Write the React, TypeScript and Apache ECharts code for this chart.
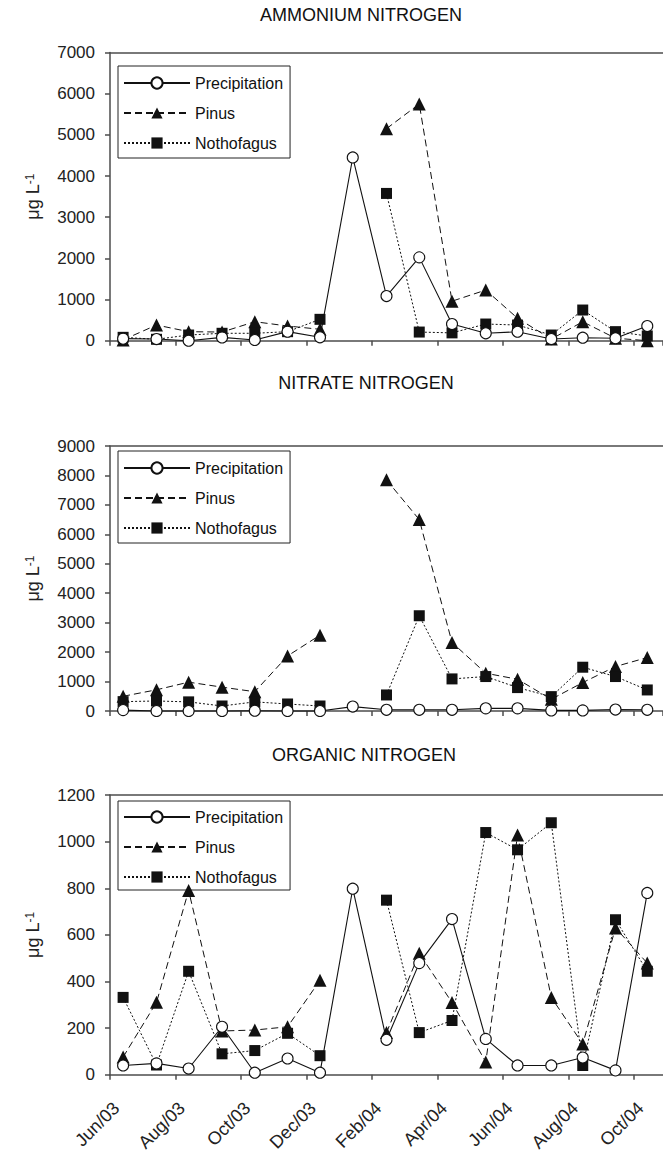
import React, { useEffect, useRef } from 'react';
import * as echarts from 'echarts';

// ---- data ----
// sampling dates, in months since 1 Jun 2003
const sampleMonths = [0.4, 1.42, 2.4, 3.42, 4.42, 5.42, 6.41, 7.41, 8.44, 9.44, 10.44, 11.47, 12.44, 13.47, 14.43, 15.43, 16.4];
const monthTickLabels = ['Jun/03', 'Aug/03', 'Oct/03', 'Dec/03', 'Feb/04', 'Apr/04', 'Jun/04', 'Aug/04', 'Oct/04'];
const panelTitles = ['AMMONIUM NITROGEN', 'NITRATE NITROGEN', 'ORGANIC NITROGEN'];
const seriesNames = ['Precipitation', 'Pinus', 'Nothofagus'];

const ammoniumPrecipitation = [50, 40, 0, 80, 17, 220, 82, 4450, 1085, 2024, 405, 180, 218, 40, 73, 60, 357];
const ammoniumPinus = [20, 381, 219, 210, 461, 357, 277, null, 5150, 5750, 960, 1230, 545, 40, 460, 60, 0];
const ammoniumNothofagus = [82, 34, 138, 180, 180, 219, 519, null, 3577, 210, 190, 405, 380, 138, 745, 220, 115];

const nitratePrecipitation = [30, 0, 0, 0, 10, 0, 0, 150, 40, 40, 40, 90, 90, 20, 20, 50, 40];
const nitratePinus = [500, 720, 980, 810, 655, 1870, 2576, null, 7850, 6500, 2327, 1283, 1078, 400, 965, 1510, 1816];
const nitrateNothofagus = [318, 340, 310, 170, 310, 238, 170, null, 545, 3235, 1090, 1170, 795, 488, 1487, 1170, 715];

const organicPrecipitation = [40, 49, 27, 206, 9, 70, 9, 798, 150, 479, 668, 154, 40, 40, 74, 19, 780];
const organicPinus = [76, 311, 790, 188, 192, 206, 405, null, 181, 521, 310, 55, 1028, 332, 132, 630, 479];
const organicNothofagus = [332, 42, 444, 90, 104, 178, 82, null, 749, 181, 233, 1039, 965, 1081, 40, 665, 444];

const yMaxValues = [7000, 9000, 1200];
const yIntervals = [1000, 1000, 200];

// ---- layout ----
const FONT = "'Liberation Sans', Arial, sans-serif";
const gridTops = [52.5, 446, 795];
const gridHeights = [288.2, 265, 286.7];
const legendTops = [66, 451, 801];
const legendPaddings = [[9, 7, 7, 5], [9, 7, 7, 5], [8, 7, 5, 5]];
const titleCenters = [361, 366, 364];
const titleTops = [6, 374, 746];
const X_MAX = 16.88;

const panels = [
  [ammoniumPrecipitation, ammoniumPinus, ammoniumNothofagus],
  [nitratePrecipitation, nitratePinus, nitrateNothofagus],
  [organicPrecipitation, organicPinus, organicNothofagus],
];

const toPairs = (vals: (number | null)[]) =>
  sampleMonths.map((m, k) => [m, vals[k] == null ? '-' : vals[k]]);

const AXIS_COLOR = '#4d4d4d';
const INK = '#111';

export default function App() {
  const ref = useRef<HTMLDivElement>(null);
  useEffect(() => {
    if (!ref.current) return;
    const chart = echarts.init(ref.current, undefined, { renderer: 'svg' });

    const grid = gridTops.map((t, i) => ({ left: 110, right: -5, top: t, height: gridHeights[i] }));

    const bottomAxes = [0, 1, 2].map((i) => ({
      type: 'value',
      gridIndex: i,
      position: 'bottom',
      min: 0,
      max: X_MAX,
      interval: 2,
      axisLine: { show: true, lineStyle: { color: AXIS_COLOR, width: 1.5 } },
      axisTick: { show: true, length: 5, lineStyle: { color: AXIS_COLOR, width: 1.5 } },
      splitLine: { show: false },
      axisLabel:
        i === 2
          ? {
              show: true,
              rotate: 45,
              margin: 24,
              verticalAlign: 'top',
              fontSize: 18,
              color: '#222',
              fontFamily: FONT,
              showMaxLabel: false,
              formatter: (v: number) => {
                const k = v / 2;
                return Number.isInteger(k) && k < monthTickLabels.length ? monthTickLabels[k] : '';
              },
            }
          : { show: false },
    }));
    const topAxes = [0, 1, 2].map((i) => ({
      type: 'value',
      gridIndex: i,
      position: 'top',
      min: 0,
      max: X_MAX,
      axisLine: { show: true, lineStyle: { color: AXIS_COLOR, width: 1.5 } },
      axisTick: { show: false },
      axisLabel: { show: false },
      splitLine: { show: false },
    }));

    const yAxis = [0, 1, 2].map((i) => ({
      type: 'value',
      gridIndex: i,
      min: 0,
      max: yMaxValues[i],
      interval: yIntervals[i],
      axisLine: { show: true, lineStyle: { color: AXIS_COLOR, width: 1.5 } },
      axisTick: { show: true, length: 5, lineStyle: { color: AXIS_COLOR, width: 1.5 } },
      splitLine: { show: false },
      axisLabel: {
        fontSize: 17,
        color: '#222',
        margin: 15,
        fontFamily: FONT,
        formatter: (v: number) => String(v),
      },
      name: '{a|μg L}{b|-1}',
      nameLocation: 'middle',
      nameGap: 68,
      nameRotate: 90,
      nameTextStyle: {
        color: '#222',
        fontFamily: FONT,
        rich: {
          a: { fontSize: 18, fontFamily: FONT, color: '#222' },
          b: { fontSize: 12, fontFamily: FONT, color: '#222', verticalAlign: 'top' },
        },
      },
    }));

    const series: any[] = [];
    panels.forEach(([pre, pin, not], i) => {
      series.push({
        type: 'line',
        name: 'Pinus',
        xAxisIndex: i,
        yAxisIndex: i,
        data: toPairs(pin),
        symbol: 'triangle',
        symbolSize: 13,
        z: 5,
        clip: false,
        connectNulls: false,
        lineStyle: { color: INK, width: 1, type: [7, 4] },
        itemStyle: { color: INK },
        emphasis: { disabled: true },
      });
      series.push({
        type: 'line',
        name: 'Nothofagus',
        xAxisIndex: i,
        yAxisIndex: i,
        data: toPairs(not),
        symbol: 'rect',
        symbolSize: 11,
        z: 5,
        clip: false,
        connectNulls: false,
        lineStyle: { color: INK, width: 1, type: [2, 2] },
        itemStyle: { color: INK },
        emphasis: { disabled: true },
      });
      series.push({
        type: 'line',
        name: 'Precipitation',
        xAxisIndex: i,
        yAxisIndex: i,
        data: toPairs(pre),
        symbol: 'circle',
        symbolSize: 11,
        z: 5,
        clip: false,
        connectNulls: false,
        lineStyle: { color: INK, width: 1.1, type: 'solid' },
        itemStyle: { color: '#fff', borderColor: INK, borderWidth: 1.1 },
        emphasis: { disabled: true },
      });
    });

    const legend = legendTops.map((t, i) => ({
      data: seriesNames,
      orient: 'vertical',
      left: 118,
      top: t,
      itemWidth: 66,
      itemHeight: 14,
      itemGap: 14,
      padding: legendPaddings[i],
      borderColor: '#222',
      borderWidth: 1,
      backgroundColor: '#fff',
      selectedMode: false,
      textStyle: { fontSize: 16, color: INK, fontFamily: FONT },
    }));

    const title = panelTitles.map((t, i) => ({
      text: t,
      left: titleCenters[i],
      top: titleTops[i],
      textAlign: 'center',
      padding: 0,
      textStyle: { fontSize: 18, fontWeight: 'normal', color: INK, fontFamily: FONT },
    }));

    chart.setOption({
      animation: false,
      backgroundColor: '#fff',
      textStyle: { fontFamily: FONT },
      title,
      legend,
      grid,
      xAxis: [...bottomAxes, ...topAxes],
      yAxis,
      series,
    });
    return () => chart.dispose();
  }, []);

  return (
    <div
      ref={ref}
      style={{ position: 'fixed', left: 0, top: 0, width: 663, height: 1154, background: '#fff' }}
    />
  );
}
